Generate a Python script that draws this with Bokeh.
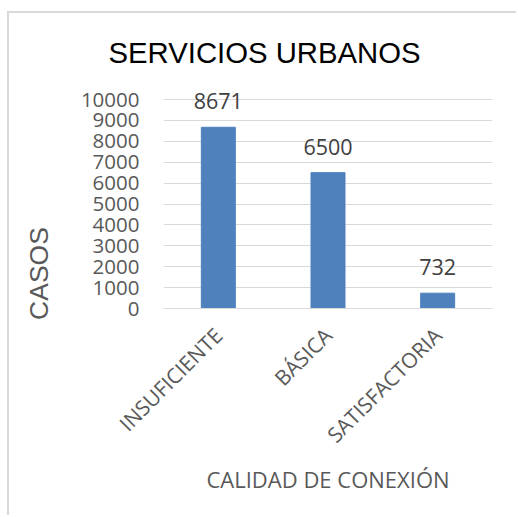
import math
from bokeh.plotting import figure
from bokeh.models import ColumnDataSource, LabelSet, Label, FactorRange, Range1d, Title
from bokeh.core.properties import value
from bokeh.embed import file_html
from bokeh.resources import INLINE

categories = ["INSUFICIENTE", "BÁSICA", "SATISFACTORIA"]
casos = [8671, 6500, 732]
y_ticks = [0, 1000, 2000, 3000, 4000, 5000, 6000, 7000, 8000, 9000, 10000]

source = ColumnDataSource(data=dict(cat=categories, val=casos, lbl=[str(v) for v in casos]))

p = figure(width=509, height=504, x_range=FactorRange(*categories, range_padding=0),
           y_range=Range1d(0, 10718), output_backend="svg", toolbar_location=None,
           min_border_left=154, min_border_right=26, min_border_top=71, min_border_bottom=209)
p.styles = {"margin-left": "7px", "margin-top": "11px",
            "border-left": "2px solid #D9D9D9", "border-top": "2px solid #D9D9D9"}
p.outline_line_color = None
p.background_fill_color = "white"
p.border_fill_color = "white"

p.vbar(x="cat", top="val", width=0.31, source=source, fill_color="#4F81BD", line_color="#4F81BD")

# axes
p.yaxis.ticker = y_ticks
p.yaxis.axis_line_color = None
p.yaxis.major_tick_line_color = None
p.yaxis.minor_tick_line_color = None
p.yaxis.major_label_standoff = 18
p.yaxis.major_label_text_font = "Open Sans"
p.yaxis.major_label_text_font_size = "20.5px"
p.yaxis.major_label_text_color = "#595959"

p.xaxis.axis_line_color = "#D9D9D9"
p.xaxis.major_tick_line_color = None
p.xaxis.major_label_orientation = math.pi / 4
p.xaxis.major_label_standoff = 17
p.xaxis.major_label_text_font = "Open Sans"
p.xaxis.major_label_text_font_size = "21px"
p.xaxis.major_label_text_color = "#595959"

p.xgrid.grid_line_color = None
p.ygrid.grid_line_color = "#D9D9D9"
p.ygrid.grid_line_width = 1

labels = LabelSet(x="cat", y="val", text="lbl", source=source, y_offset=18,
                  text_align="center", text_baseline="alphabetic",
                  text_font=value("Open Sans"), text_font_size=value("21.5px"), text_color="#404040")
p.add_layout(labels)

p.add_layout(Title(text="SERVICIOS URBANOS", align="left", offset=-55, standoff=31,
                   text_font="Liberation Sans", text_font_size="29.3px", text_font_style="normal",
                   text_color="#000000"), "above")
p.add_layout(Label(x=-9, y=35, x_units="screen", y_units="screen", text="CASOS", angle=math.pi / 2,
                   text_align="center", text_baseline="middle", text_font="Liberation Sans",
                   text_font_size="26.5px", text_color="#595959"), "left")
p.add_layout(Title(text="CALIDAD DE CONEXIÓN", align="center", standoff=0,
                   text_font="Open Sans", text_font_size="22px", text_font_style="normal",
                   text_color="#595959"), "below")

open("out.html", "w").write(file_html(p, INLINE))
